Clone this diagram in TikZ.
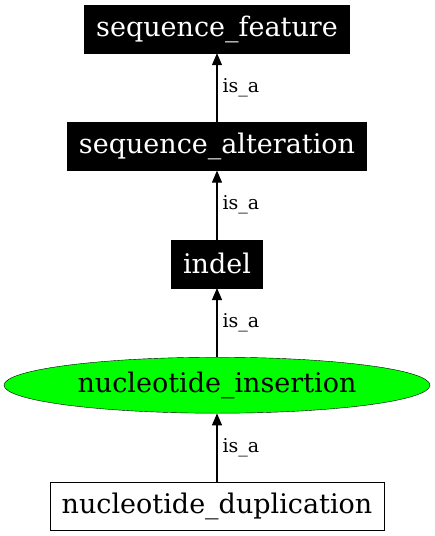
\documentclass[tikz,border=0pt]{standalone}
\usepackage{fontspec}
\setmainfont{DejaVu Serif}
\usepackage{tikz}
\usetikzlibrary{arrows.meta,positioning,shapes.geometric}
\definecolor{focusgreen}{rgb}{0,1,0}

\begin{document}
\begin{tikzpicture}[
    x=1pt, y=1pt,
    term/.style={draw, fill=black, text=white, rectangle, minimum height=48pt, inner xsep=11.5pt, font=\fontsize{27}{32}\selectfont},
    focus/.style={draw, fill=focusgreen, ellipse, minimum width=426pt, minimum height=56pt, inner sep=0pt, font=\fontsize{27}{32}\selectfont},
    leaf/.style={draw, fill=white, rectangle, minimum height=48pt, inner xsep=11.5pt, font=\fontsize{27}{32}\selectfont},
    arrow/.style={-{Triangle[length=12pt, width=10pt]}, line width=1.1pt},
    rel/.style={font=\fontsize{19}{22}\selectfont, inner sep=5pt},
    node distance=69pt
]
\useasboundingbox (0,0) rectangle (435,-536);

% Terms
\node[term] (feat) at (217,-29) {sequence\_feature};
\node[term, below=of feat] (alt) {sequence\_alteration};
\node[term, below=of alt] (indel) {indel};
\node[focus, below=of indel] (ins) {nucleotide\_insertion};
\node[leaf, below=of ins] (dup) {nucleotide\_duplication};

% Relations
\draw[arrow] (alt) -- (feat) node[midway, right, rel] {is\_a};
\draw[arrow] (indel) -- (alt) node[midway, right, rel] {is\_a};
\draw[arrow] (ins) -- (indel) node[midway, right, rel] {is\_a};
\draw[arrow] (dup) -- (ins) node[midway, right, rel] {is\_a};

\end{tikzpicture}
\end{document}
